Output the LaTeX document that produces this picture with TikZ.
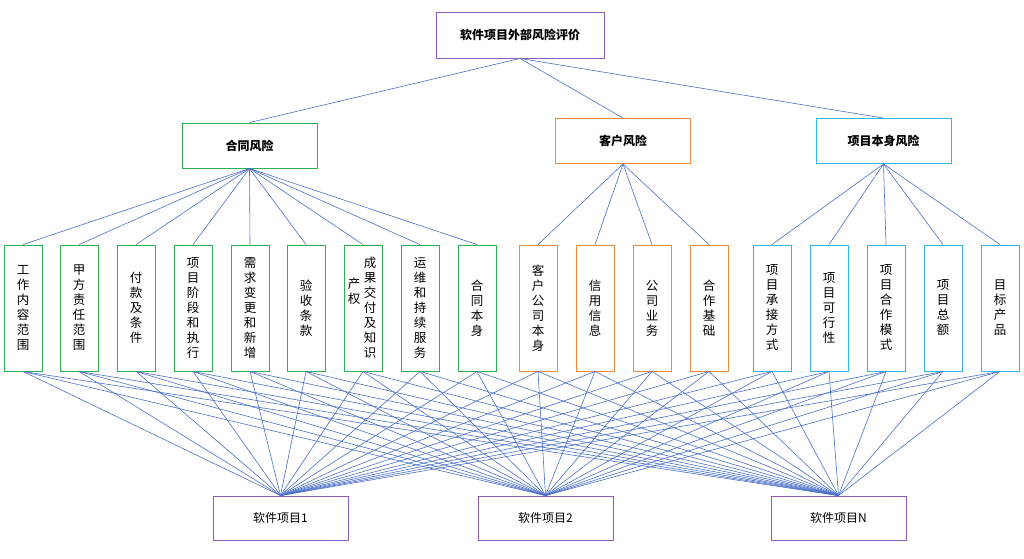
\documentclass[tikz,border=0pt]{standalone}
\usepackage{fontspec}
\setmainfont{Noto Sans CJK SC}
\begin{document}
\begin{tikzpicture}[x=1pt,y=-1pt,
 box/.style={draw=#1,line width=0.9pt,fill=white,inner sep=0pt,align=center},
 lv/.style={box=#1,minimum width=135pt,minimum height=45pt,font=\fontsize{12}{14}\selectfont\bfseries},
 leaf/.style={box=#1,minimum width=38pt,minimum height=126pt,font=\fontsize{12.5}{15}\selectfont},
 bt/.style={box=purp,minimum width=135pt,minimum height=44pt,font=\fontsize{12}{14}\selectfont},
 ln/.style={draw=lc,line width=0.6pt}]
\definecolor{purp}{HTML}{8E5CB8}
\definecolor{grn}{HTML}{2DB050}
\definecolor{org}{HTML}{F08A3C}
\definecolor{blu}{HTML}{33B5E8}
\definecolor{lc}{HTML}{4A6FC8}
\useasboundingbox (0,0) rectangle (1024,558);
\node[lv=purp,minimum width=168pt,minimum height=46pt] (top) at (520,35) {软件项目外部风险评价};
\node[lv=grn] (g) at (249.5,145.5) {合同风险};
\node[lv=org] (o) at (623,141) {客户风险};
\node[lv=blu] (b) at (883.5,141) {项目本身风险};
\foreach \n/\x/\t in {g1/23/工\\作\\内\\容\\范\\围, g2/79/甲\\方\\责\\任\\范\\围, g3/136/付\\款\\及\\条\\件, g4/193/项\\目\\阶\\段\\和\\执\\行, g5/250/需\\求\\变\\更\\和\\新\\增, g6/306/验\\收\\条\\款, g8/420/运\\维\\和\\持\\续\\服\\务, g9/477/合\\同\\本\\身}
  \node[leaf=grn] (\n) at (\x,308) {\t};
\node[leaf=grn] (g7) at (363,308) {};
\node[font=\fontsize{12.5}{15}\selectfont,align=center,inner sep=0pt] at (370,308) {成\\果\\交\\付\\及\\知\\识};
\node[font=\fontsize{12.5}{15}\selectfont,align=center,inner sep=0pt] at (354,291) {产\\权};
\foreach \n/\x/\t in {o1/538/客\\户\\公\\司\\本\\身, o2/595/信\\用\\信\\息, o3/652/公\\司\\业\\务, o4/709/合\\作\\基\\础}
  \node[leaf=org] (\n) at (\x,308) {\t};
\foreach \n/\x/\t in {b1/772/项\\目\\承\\接\\方\\式, b2/829/项\\目\\可\\行\\性, b3/886/项\\目\\合\\作\\模\\式, b4/943/项\\目\\总\\额, b5/1000/目\\标\\产\\品}
  \node[leaf=blu] (\n) at (\x,308) {\t};
\node[bt] (p1) at (280.5,518) {软件项目1};
\node[bt] (p2) at (545.5,518) {软件项目2};
\node[bt] (p3) at (838.5,518) {软件项目N};
\begin{scope}[on background layer/.style={}]
\end{scope}
\foreach \a in {g,o,b} \draw[ln] (top.south) -- (\a.north);
\foreach \i in {1,...,9} \draw[ln] (g.south) -- (g\i.north);
\foreach \i in {1,...,4} \draw[ln] (o.south) -- (o\i.north);
\foreach \i in {1,...,5} \draw[ln] (b.south) -- (b\i.north);
\foreach \l in {g1,g2,g3,g4,g5,g6,g7,g8,g9,o1,o2,o3,o4,b1,b2,b3,b4,b5}
  \foreach \p in {p1,p2,p3} \draw[ln] (\l.south) -- (\p.north);
\end{tikzpicture}
\end{document}
